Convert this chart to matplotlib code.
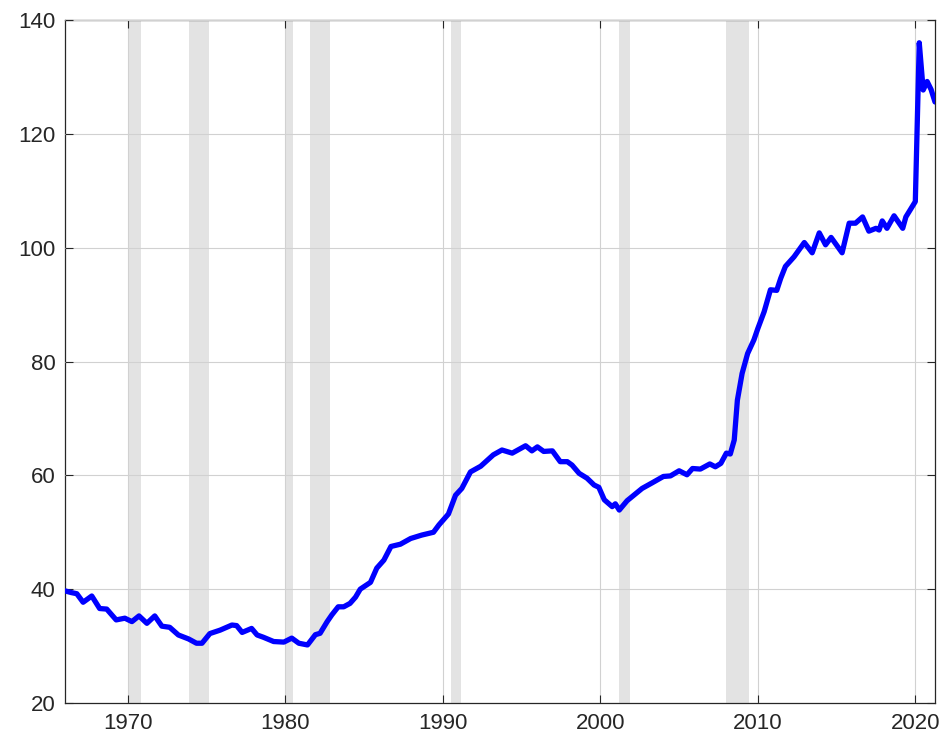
import matplotlib
matplotlib.use('Agg')
import matplotlib.pyplot as plt

# ---------------- data (quarter-ish resolution) ----------------
dates = [1966.0, 1966.4, 1966.75, 1967.15, 1967.7, 1968.2, 1968.65, 1969.25, 1969.8,
         1970.25, 1970.7, 1971.2, 1971.7, 1972.15, 1972.65, 1973.2, 1973.85, 1974.35,
         1974.7, 1975.2, 1975.85, 1976.6, 1976.9, 1977.25, 1977.85, 1978.2, 1978.6,
         1979.25, 1979.9, 1980.4, 1980.85, 1981.4, 1981.9, 1982.2, 1982.65, 1982.95,
         1983.35, 1983.7, 1984.1, 1984.45, 1984.75, 1985.4, 1985.8, 1986.25, 1986.7,
         1987.3, 1987.95, 1988.65, 1989.4, 1989.75, 1990.35, 1990.8, 1991.2, 1991.75,
         1992.4, 1993.2, 1993.75, 1994.4, 1995.25, 1995.65, 1996.0, 1996.4, 1996.95,
         1997.45, 1997.9, 1998.2, 1998.65, 1999.15, 1999.6, 1999.9, 2000.25, 2000.75,
         2000.95, 2001.2, 2001.7, 2001.9, 2002.65, 2003.3, 2004.0, 2004.45, 2005.0,
         2005.5, 2005.85, 2006.35, 2006.95, 2007.3, 2007.65, 2008.0, 2008.25, 2008.5,
         2008.7, 2009.0, 2009.35, 2009.75, 2010.0, 2010.4, 2010.8, 2011.2, 2011.45,
         2011.75, 2012.3, 2012.95, 2013.45, 2013.9, 2014.3, 2014.65, 2015.35, 2015.8,
         2016.2, 2016.65, 2017.05, 2017.5, 2017.7, 2017.9, 2018.2, 2018.65, 2019.2,
         2019.4, 2020.0, 2020.25, 2020.5, 2020.75, 2021.0, 2021.25]
values = [39.7, 39.4, 39.2, 37.7, 38.8, 36.6, 36.5, 34.6, 34.9,
          34.3, 35.3, 34.0, 35.3, 33.5, 33.3, 31.95, 31.25, 30.5,
          30.5, 32.2, 32.8, 33.7, 33.6, 32.4, 33.1, 31.95, 31.55,
          30.8, 30.7, 31.4, 30.5, 30.2, 32.0, 32.25, 34.3, 35.5,
          36.9, 36.9, 37.5, 38.6, 40.0, 41.2, 43.7, 45.1, 47.5,
          47.9, 48.9, 49.5, 50.0, 51.3, 53.2, 56.5, 57.7, 60.6,
          61.6, 63.6, 64.45, 63.9, 65.2, 64.3, 65.0, 64.2, 64.3,
          62.4, 62.4, 61.8, 60.35, 59.5, 58.3, 57.9, 55.7, 54.5,
          55.0, 53.9, 55.55, 56.0, 57.7, 58.7, 59.8, 59.9, 60.8,
          60.1, 61.2, 61.1, 62.0, 61.5, 62.1, 63.9, 63.75, 66.2,
          73.2, 77.9, 81.4, 83.8, 85.8, 88.75, 92.6, 92.5, 94.6,
          96.7, 98.4, 100.9, 99.1, 102.6, 100.5, 101.8, 99.1, 104.3,
          104.3, 105.4, 102.9, 103.4, 103.1, 104.7, 103.4, 105.6, 103.4,
          105.4, 108.1, 136.0, 127.7, 129.2, 127.8, 125.6]

# recession periods (start, end)
rec_start = [1970.0, 1973.9, 1979.95, 1981.55, 1990.52, 2001.2, 2007.97]
rec_end = [1970.85, 1975.15, 1980.48, 1982.82, 1991.15, 2001.85, 2009.42]

x_ticks = [1970, 1980, 1990, 2000, 2010, 2020]
y_ticks = [20, 40, 60, 80, 100, 120, 140]

# ---------------- plot ----------------
plt.rcParams['font.family'] = ['Liberation Sans', 'DejaVu Sans']
axis_col = (0.15, 0.15, 0.15)

fig = plt.figure(figsize=(9.48, 7.51), dpi=100)
ax = fig.add_axes([65 / 948, 1 - 703 / 751, 870 / 948, 683 / 751])

for s, e in zip(rec_start, rec_end):
    ax.axvspan(s, e, color=(0.89, 0.89, 0.89), lw=0, zorder=0)

ax.plot(dates, values, color=(0, 0, 1), lw=3.8, zorder=3,
        solid_joinstyle='round', solid_capstyle='round')

ax.set_xlim(1966.0, 2021.25)
ax.set_ylim(20, 140)
ax.set_xticks(x_ticks)
ax.set_yticks(y_ticks)
ax.grid(True, color=(0.82, 0.82, 0.82), lw=0.8, zorder=1)
ax.set_axisbelow(False)

ax.tick_params(direction='in', length=6, width=0.8, colors=axis_col,
               labelsize=16, top=True, right=True, pad=7)
for sp in ax.spines.values():
    sp.set_color(axis_col)
    sp.set_linewidth(0.9)

fig.savefig('out.png', dpi=100)
